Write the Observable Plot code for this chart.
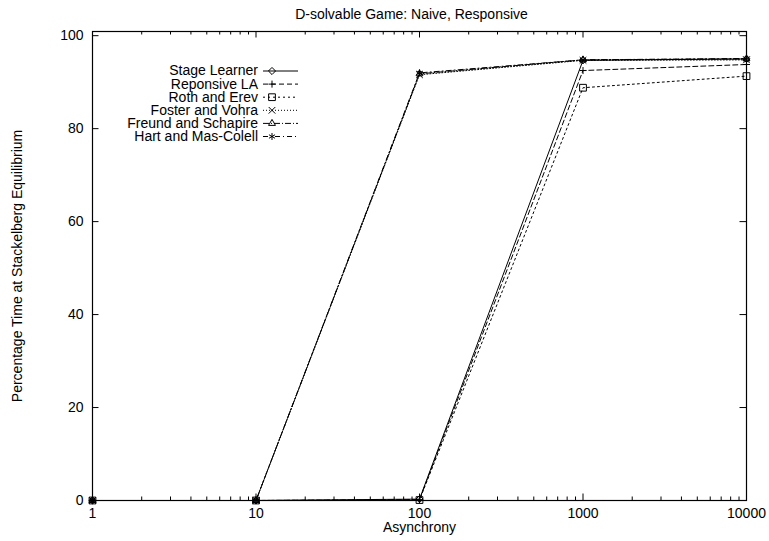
<!DOCTYPE html>
<html><head><meta charset="utf-8">
<script src="https://cdn.jsdelivr.net/npm/d3@7"></script>
<script src="https://cdn.jsdelivr.net/npm/@observablehq/plot@0.6"></script>
<style>html,body{margin:0;padding:0;background:#fff} svg{display:block}</style>
</head><body><div id="chart"></div>
<script>
// ---- data ----
const asynchrony = [1, 10, 100, 1000, 10000];
const seriesNames = ["Stage Learner", "Reponsive LA", "Roth and Erev", "Foster and Vohra", "Freund and Schapire", "Hart and Mas-Colell"];
const stageLearner   = [0, 0, 0.3, 94.7, 95.0];
const reponsiveLA    = [0, 0, 0.2, 92.5, 93.8];
const rothErev       = [0, 0, 0.1, 88.8, 91.3];
const fosterVohra    = [0, 0, 91.6, 94.7, 94.8];
const freundSchapire = [0, 0, 91.8, 94.8, 95.0];
const hartMasColell  = [0, 0, 92.0, 94.8, 95.1];
const seriesValues = [stageLearner, reponsiveLA, rothErev, fosterVohra, freundSchapire, hartMasColell];
const xTicks = [1, 10, 100, 1000, 10000];
const yTicks = [0, 20, 40, 60, 80, 100];
const titleText = "D-solvable Game: Naive, Responsive";
const xLabel = "Asynchrony";
const yLabel = "Percentage Time at Stackelberg Equilibrium";

// ---- styles ----
const dashes  = [null, "5,3", "2,3", "1,2", "6,2,1,2", "5,3,1,3"];
const symbols = ["diamond2", "plus", "square2", "times", "triangle2", "asterisk"];
const d3Symbols = [d3.symbolDiamond2, d3.symbolPlus, d3.symbolSquare2, d3.symbolTimes, d3.symbolTriangle2, d3.symbolAsterisk];
const radii   = [3.2, 2.4, 4.3, 3.1, 3.3, 3.3];

const W = 769, H = 541, mL = 92, mR = 23, mT = 31, mB = 41;
const iw = W - mL - mR, ih = H - mT - mB;
const major = 6.5, minor = 3.5;
const font = "'Liberation Sans', Arial, Helvetica, sans-serif";
const xMinor = xTicks.slice(0, -1).flatMap(d => [2,3,4,5,6,7,8,9].map(k => k * d));

const table = seriesNames.map((name, i) => asynchrony.map((x, j) => ({series: name, x, y: seriesValues[i][j]})));

const seriesMarks = table.flatMap((rows, i) => [
  Plot.line(rows, {x: "x", y: "y", stroke: "black", strokeWidth: 1, strokeDasharray: dashes[i]}),
  Plot.dot(rows, {x: "x", y: "y", stroke: "black", fill: "none", strokeWidth: 1, symbol: () => symbols[i], r: radii[i]})
]);

const plot = Plot.plot({
  width: W, height: H,
  marginLeft: mL, marginRight: mR, marginTop: mT, marginBottom: mB,
  style: {fontFamily: font, fontSize: "14px", color: "black", background: "white"},
  x: {type: "log", domain: [1, 10000]},
  y: {domain: [0, 100.9]},
  symbol: {type: "identity"},
  marks: [
    Plot.ruleY(yTicks, {y: d => d, stroke: "black", insetRight: iw - major}),
    Plot.ruleY(yTicks, {y: d => d, stroke: "black", insetLeft: iw - major}),
    Plot.ruleX(xTicks, {x: d => d, stroke: "black", insetTop: ih - major}),
    Plot.ruleX(xTicks, {x: d => d, stroke: "black", insetBottom: ih - major}),
    Plot.ruleX(xMinor, {x: d => d, stroke: "black", insetTop: ih - minor}),
    Plot.ruleX(xMinor, {x: d => d, stroke: "black", insetBottom: ih - minor}),
    Plot.axisX({ticks: xTicks, tickSize: 0, tickPadding: 8, tickFormat: d => String(d), label: null}),
    Plot.axisY({ticks: yTicks, tickSize: 0, tickPadding: 9, label: null}),
    ...seriesMarks,
    Plot.frame({stroke: "black", strokeWidth: 1.2}),
    Plot.text([titleText], {text: d => d, frameAnchor: "top", dx: -8, dy: -17, textAnchor: "middle", lineAnchor: "middle", fill: "black"}),
    Plot.text([xLabel], {text: d => d, frameAnchor: "bottom", dy: 27, textAnchor: "middle", lineAnchor: "middle", fill: "black"}),
    Plot.text([yLabel], {text: d => d, frameAnchor: "left", dx: -75, rotate: -90, textAnchor: "middle", lineAnchor: "middle", fill: "black"})
  ]
});

// ---- legend (inside plot, top-left, gnuplot style) ----
const svg = d3.select(plot);
const lg = svg.append("g").attr("font-family", font).attr("font-size", 14);
seriesNames.forEach((name, i) => {
  const y = 71 + i * 13.1;
  lg.append("text").attr("x", 258).attr("y", y).attr("dy", "0.32em").attr("text-anchor", "end").attr("fill", "black").text(name);
  lg.append("line").attr("x1", 263).attr("x2", 298).attr("y1", y).attr("y2", y)
    .attr("stroke", "black").attr("stroke-width", 1).attr("stroke-dasharray", dashes[i]);
  lg.append("path").attr("d", d3.symbol(d3Symbols[i], Math.PI * radii[i] * radii[i])())
    .attr("transform", `translate(272,${y})`).attr("fill", "none").attr("stroke", "black").attr("stroke-width", 1);
});

document.getElementById("chart").appendChild(plot);
</script>
</body></html>
